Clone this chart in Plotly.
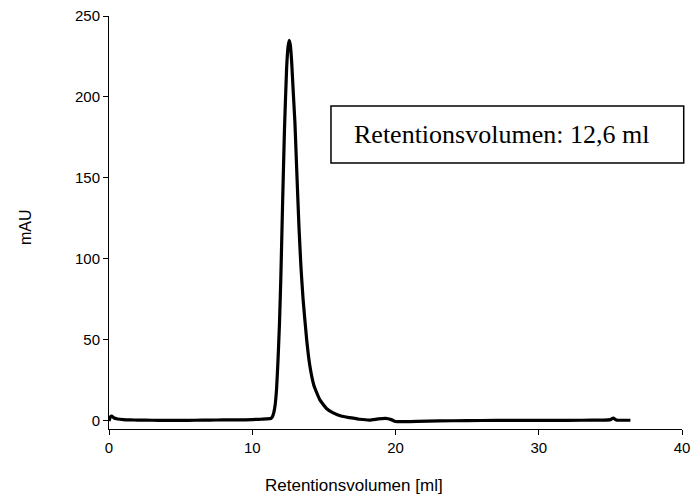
import plotly.graph_objects as go

# Retention volume (ml) and absorbance (mAU)
volume_ml = [0.0, 0.1, 0.2, 0.35, 0.6, 1.0, 1.5, 2.0, 3.0, 4.0, 5.0, 6.0, 7.0, 8.0, 9.0, 10.0,
             10.5, 11.0, 11.3, 11.4, 11.5, 11.6, 11.7, 11.8, 11.9, 12.0, 12.12, 12.25, 12.4,
             12.5, 12.58, 12.66, 12.75, 12.85, 12.98, 13.1, 13.26, 13.4, 13.55, 13.8, 14.02,
             14.3, 14.72, 15.2, 15.65, 16.2, 16.8, 17.5, 18.2, 18.8, 19.3, 19.7, 20.0, 20.5,
             21.5, 23.0, 25.0, 27.0, 29.0, 31.0, 33.0, 34.5, 35.0, 35.2, 35.4, 36.0, 36.4]
absorbance_mau = [0.0, 2.5, 3.0, 1.8, 1.2, 0.8, 0.6, 0.5, 0.4, 0.3, 0.3, 0.4, 0.5, 0.6, 0.6, 0.8,
                  1.0, 1.2, 1.5, 2.5, 5.0, 10.0, 20.0, 38.0, 60.0, 90.0, 135.0, 180.0, 218.0,
                  231.0, 235.0, 232.0, 222.0, 205.0, 184.0, 156.0, 120.0, 95.0, 75.0, 50.0, 34.0,
                  22.0, 13.0, 7.5, 5.0, 3.0, 2.0, 1.0, 0.5, 1.2, 1.5, 0.8, -0.4, -0.5,
                  -0.3, 0.0, 0.2, 0.3, 0.3, 0.3, 0.4, 0.5, 0.8, 1.8, 0.6, 0.4, 0.4]

x_ticks = [0, 10, 20, 30, 40]
y_ticks = [0, 50, 100, 150, 200, 250]
x_title = "Retentionsvolumen [ml]"
y_title = "mAU"
annotation_text = "Retentionsvolumen: 12,6 ml"

fig = go.Figure()
fig.add_trace(go.Scatter(
    x=volume_ml, y=absorbance_mau, mode="lines",
    line=dict(color="black", width=3.2, shape="spline", smoothing=0.4),
    showlegend=False, hoverinfo="skip",
))

axis_common = dict(
    showline=True, linecolor="#000000", linewidth=1,
    ticks="outside", ticklen=5, tickcolor="#000000", tickwidth=1,
    showgrid=False, zeroline=False, automargin=False,
    tickfont=dict(family="Liberation Sans, Arial, sans-serif", size=15, color="black"),
)

fig.update_layout(
    width=692, height=497,
    margin=dict(l=109, r=10, t=16, b=68),
    paper_bgcolor="white", plot_bgcolor="white",
    xaxis=dict(range=[0, 40], tickvals=x_ticks, **axis_common),
    yaxis=dict(range=[-5, 250], tickvals=y_ticks, **axis_common),
)

title_font = dict(family="Liberation Sans, Arial, sans-serif", size=17, color="black")
fig.add_annotation(xref="paper", yref="paper", x=0.4276, y=-0.138, xanchor="center", yanchor="middle",
                   text=x_title, showarrow=False, font=title_font)
fig.add_annotation(xref="paper", yref="paper", x=-0.146, y=0.49, xanchor="center", yanchor="middle",
                   text=y_title, showarrow=False, textangle=-90,
                   font=dict(family="Liberation Sans, Arial, sans-serif", size=16, color="black"))

fig.add_shape(type="rect", xref="paper", yref="paper",
              x0=0.3874, x1=1.003, y0=0.644, y1=0.782,
              line=dict(color="black", width=1.5), fillcolor="white", layer="above")
fig.add_annotation(xref="paper", yref="paper", x=0.424, y=0.713, xanchor="left", yanchor="middle",
                   text=annotation_text, showarrow=False,
                   font=dict(family="Liberation Serif, Times New Roman, serif", size=26, color="black"))

fig.write_html("out.html")
